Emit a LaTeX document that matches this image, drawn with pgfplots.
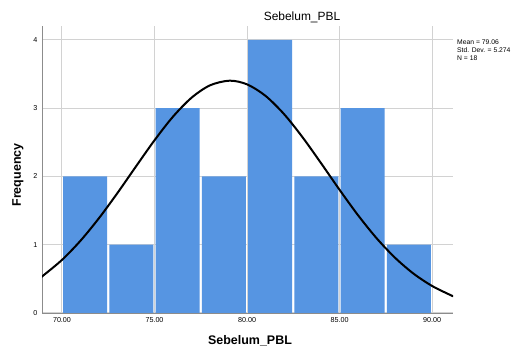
\documentclass[border=0pt]{standalone}
\usepackage{pgfplots}
\pgfplotsset{compat=1.18}
\usepackage{fontspec}
\setmainfont{Liberation Sans}
\definecolor{barblue}{RGB}{86,149,226}
\definecolor{gridgray}{RGB}{210,210,210}
\definecolor{axisgray}{RGB}{140,140,140}
\begin{document}
\begin{tikzpicture}
\useasboundingbox (0,0) rectangle (515bp,349bp);
\fill[white] (0,0) rectangle (515bp,349bp);
\begin{axis}[
  at={(42bp,36bp)}, anchor=south west,
  scale only axis, width=411bp, height=287bp,
  xmin=68.92, xmax=91.13, ymin=0, ymax=4.205,
  xtick={70,75,80,85,90},
  xticklabels={70.00,75.00,80.00,85.00,90.00},
  ytick={0,1,2,3,4},
  grid=major,
  major grid style={gridgray, line width=1bp},
  axis x line*=bottom, axis y line*=left,
  axis line style={axisgray, line width=0.8bp, -},
  tick style={draw=none},
  tick label style={font=\fontsize{7.2}{8}\selectfont, black},
  /pgf/number format/assume math mode=true,
  xticklabel style={yshift=-1bp},
  yticklabel style={xshift=-1bp},
  clip=true,
]
\addplot[ybar, bar width=2.38, fill=barblue, draw=none, bar shift=0pt] coordinates {
  (71.25,2) (73.75,1) (76.25,3) (78.75,2) (81.25,4) (83.75,2) (86.25,3) (88.75,1)
};
\addplot[black, line width=2bp, smooth] coordinates {
  (68.9,0.532) (69,0.552) (70,0.778) (71,1.059) (72,1.390) (73,1.759) (74,2.148)
  (75,2.531) (76,2.877) (77,3.154) (78,3.336) (79.06,3.404) (80,3.350) (81,3.181)
  (82,2.914) (83,2.575) (84,2.195) (85,1.805) (86,1.432) (87,1.096) (88,0.809)
  (89,0.576) (90,0.396) (91,0.262) (91.13,0.248)
};
\end{axis}
\node at (302bp,332bp) {\fontsize{12}{14}\selectfont Sebelum\_PBL};
\node at (250bp,8bp) {\fontsize{12.5}{14}\selectfont\bfseries Sebelum\_PBL};
\node[rotate=90] at (18bp,174bp) {\fontsize{12.5}{14}\selectfont\bfseries Frequency};
\node[anchor=north west, align=left, inner sep=0pt, font=\fontsize{6.8}{7.8}\selectfont] at (457bp,309bp)
  {Mean = 79.06\\Std. Dev. = 5.274\\N = 18};
\end{tikzpicture}
\end{document}
